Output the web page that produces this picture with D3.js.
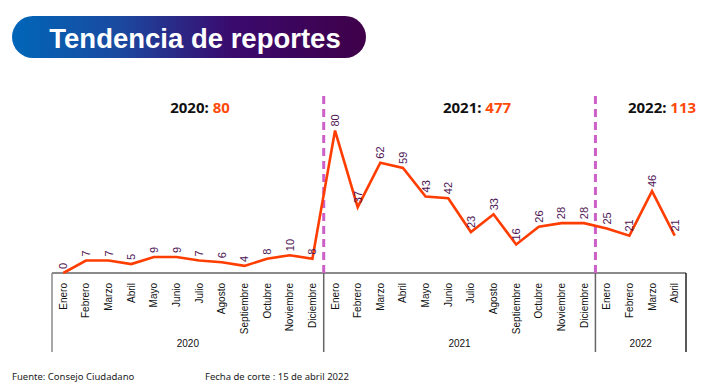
<!DOCTYPE html>
<html><head><meta charset="utf-8">
<script src="https://cdn.jsdelivr.net/npm/d3@7"></script>
<style>html,body{margin:0;padding:0;background:#fff;}svg{display:block;}</style>
</head><body>
<svg id="chart" width="705" height="388"></svg>
<script>
const months = ["Enero","Febrero","Marzo","Abril","Mayo","Junio","Julio","Agosto","Septiembre","Octubre","Noviembre","Diciembre"];
const years = ["2020","2021","2022"];
const values2020 = [0,7,7,5,9,9,7,6,4,8,10,8];
const values2021 = [80,37,62,59,43,42,23,33,16,26,28,28];
const values2022 = [25,21,46,21];
const yearTotals = [80,477,113];
const titleText = "Tendencia de reportes";
const sourceText = "Fuente: Consejo Ciudadano";
const dateText = "Fecha de corte : 15 de abril 2022";

const seriesByYear = [values2020, values2021, values2022];
const data = [];
seriesByYear.forEach((vals, yi) => vals.forEach((v, mi) => data.push({key: years[yi] + "-" + mi, year: years[yi], month: months[mi], value: v})));

const svg = d3.select("#chart");
const left = 52, right = 686, axisY = 273;

const x = d3.scaleBand().domain(data.map(d => d.key)).range([left, right]).padding(0);
const y = d3.scaleLinear().domain([0, 80]).range([axisY, 130.6]);
const cx = d => x(d.key) + x.bandwidth() / 2;

// Title pill
const defs = svg.append("defs");
const grad = defs.append("linearGradient").attr("id", "tg").attr("x1", "0").attr("x2", "1").attr("y1", "0").attr("y2", "0");
grad.append("stop").attr("offset", "0%").attr("stop-color", "#0066b8");
grad.append("stop").attr("offset", "30%").attr("stop-color", "#1a4aa0");
grad.append("stop").attr("offset", "62%").attr("stop-color", "#3a0a6e");
grad.append("stop").attr("offset", "100%").attr("stop-color", "#3f0048");
svg.append("rect").attr("x", 12).attr("y", 16).attr("width", 354).attr("height", 42).attr("rx", 21).attr("fill", "url(#tg)");
svg.append("text").attr("x", 195).attr("y", 47.5).attr("text-anchor", "middle")
  .attr("font-family", "Liberation Sans, Arial, sans-serif").attr("font-weight", "bold")
  .attr("font-size", 27.5).attr("fill", "#fff").text(titleText);

// Year groups boundaries
const yearStart = years.map(yr => data.findIndex(d => d.year === yr));
const boundaryX = yr => x(data[yearStart[years.indexOf(yr)]].key);

// Axis line
svg.append("line").attr("x1", left).attr("x2", right).attr("y1", axisY).attr("y2", axisY)
  .attr("stroke", "#8a8a8a").attr("stroke-width", 2);

// Vertical separators below axis
const sepXs = [left, boundaryX("2021"), boundaryX("2022"), right];
sepXs.forEach((sx, i) => {
  svg.append("line").attr("x1", sx).attr("x2", sx).attr("y1", axisY).attr("y2", 352)
    .attr("stroke", i === 0 ? "#8a8a8a" : (i === 3 ? "#222" : "#666")).attr("stroke-width", 1.5);
});

// Dashed year separators
[boundaryX("2021"), boundaryX("2022")].forEach(sx => {
  svg.append("line").attr("x1", sx).attr("x2", sx).attr("y1", 96).attr("y2", 278)
    .attr("stroke", "#cc5fc8").attr("stroke-width", 3).attr("stroke-dasharray", "8,5");
});

// Month labels
svg.append("g").selectAll("text").data(data).join("text")
  .attr("transform", d => `translate(${cx(d) + 3.5},283) rotate(-90)`)
  .attr("text-anchor", "end")
  .attr("font-family", "Liberation Sans, Arial, sans-serif").attr("font-size", 10)
  .attr("fill", "#111").text(d => d.month);

// Year labels at bottom
years.forEach((yr, i) => {
  const ds = data.filter(d => d.year === yr);
  const x0 = x(ds[0].key), x1 = x(ds[ds.length - 1].key) + x.bandwidth();
  svg.append("text").attr("x", (x0 + x1) / 2).attr("y", 347).attr("text-anchor", "middle")
    .attr("font-family", "Liberation Sans, Arial, sans-serif").attr("font-size", 10)
    .attr("fill", "#111").text(yr);
});

// Year headers
const headerX = [200, 477, 662];
years.forEach((yr, i) => {
  const t = svg.append("text").attr("x", headerX[i]).attr("y", 113).attr("text-anchor", "middle")
    .attr("font-family", "Noto Sans, sans-serif").attr("font-weight", "bold").attr("font-size", 15);
  t.append("tspan").attr("fill", "#111").text(yr + ": ");
  t.append("tspan").attr("fill", "#ff4a0a").text(yearTotals[i]);
});

// Line
const line = d3.line().x(cx).y(d => y(d.value));
svg.append("path").datum(data).attr("d", line).attr("fill", "none")
  .attr("stroke", "#ff3d00").attr("stroke-width", 2.6).attr("stroke-linejoin", "miter");

// Value labels
svg.append("g").selectAll("text").data(data).join("text")
  .attr("transform", d => `translate(${cx(d) + 4},${y(d.value) - 4}) rotate(-90)`)
  .attr("text-anchor", "start")
  .attr("font-family", "Liberation Sans, Arial, sans-serif").attr("font-size", 11)
  .attr("fill", "#4e1454").text(d => d.value);

// Footer
svg.append("text").attr("x", 12).attr("y", 380).attr("font-family", "Noto Sans, sans-serif")
  .attr("font-size", 9.5).attr("fill", "#222").text(sourceText);
svg.append("text").attr("x", 205).attr("y", 380).attr("font-family", "Noto Sans, sans-serif")
  .attr("font-size", 9.5).attr("fill", "#222").text(dateText);
</script>
</body></html>
